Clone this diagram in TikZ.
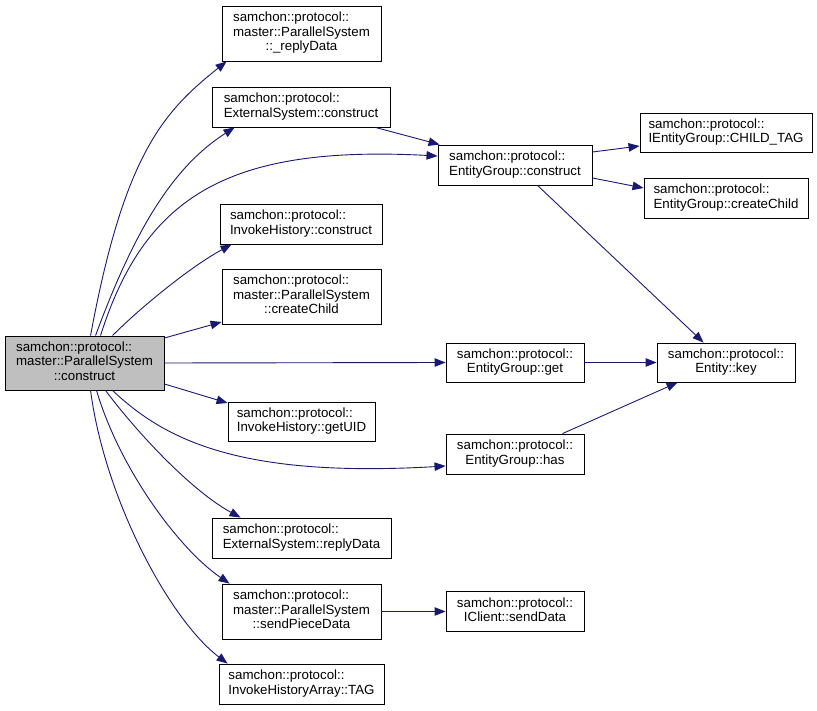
\documentclass[tikz,border=0pt]{standalone}
\usepackage{fontspec}
\setmainfont{Liberation Sans}
\usetikzlibrary{arrows.meta}
\definecolor{edgeblue}{HTML}{191970}
\definecolor{maingray}{HTML}{BFBFBF}
\newcommand{\twol}[2]{\begin{tabular}{@{}l@{}}#1\\#2\end{tabular}}
\newcommand{\twoc}[2]{\begin{tabular}{@{}c@{}}#1\\#2\end{tabular}}
\newcommand{\threel}[3]{\begin{tabular}{@{}l@{}}#1\\#2\\\multicolumn{1}{@{}c@{}}{#3}\end{tabular}}
\begin{document}
\begin{tikzpicture}[x=1pt,y=-1pt,
  box/.style={draw=black, fill=white, line width=0.9pt, rectangle, inner sep=0pt,
    font=\fontsize{13.3}{14.4}\selectfont},
  edge/.style={draw=edgeblue, line width=0.9pt, -{Triangle[length=11pt,width=8.5pt]}}]
\useasboundingbox (0,0) rectangle (817,711);
% nodes
\node[box, fill=maingray, minimum width=159pt, minimum height=54pt] (main) at (84.5,363) {\threel{samchon::protocol::}{master::ParallelSystem}{::construct}};
\node[box, minimum width=159pt, minimum height=55pt] (rd) at (301.5,33.5) {\threel{samchon::protocol::}{master::ParallelSystem}{::\_replyData}};
\node[box, minimum width=178pt, minimum height=40pt] (esc) at (301,107) {\twol{samchon::protocol::}{ExternalSystem::construct}};
\node[box, minimum width=162pt, minimum height=40pt] (ihc) at (301,224) {\twol{samchon::protocol::}{InvokeHistory::construct}};
\node[box, minimum width=159pt, minimum height=55pt] (mcc) at (301.5,296.5) {\threel{samchon::protocol::}{master::ParallelSystem}{::createChild}};
\node[box, minimum width=147pt, minimum height=39pt] (uid) at (301.5,421.5) {\twol{samchon::protocol::}{InvokeHistory::getUID}};
\node[box, minimum width=154pt, minimum height=40pt] (egc) at (515,165) {\twol{samchon::protocol::}{EntityGroup::construct}};
\node[box, minimum width=172pt, minimum height=39pt] (ctag) at (726,132.5) {\twol{samchon::protocol::}{IEntityGroup::CHILD\_TAG}};
\node[box, minimum width=164pt, minimum height=40pt] (egcc) at (726,198) {\twol{samchon::protocol::}{EntityGroup::createChild}};
\node[box, minimum width=138pt, minimum height=39pt] (get) at (515,362.5) {\twoc{samchon::protocol::}{EntityGroup::get}};
\node[box, minimum width=138pt, minimum height=39pt] (key) at (726,362.5) {\twoc{samchon::protocol::}{Entity::key}};
\node[box, minimum width=138pt, minimum height=40pt] (has) at (515,454) {\twoc{samchon::protocol::}{EntityGroup::has}};
\node[box, minimum width=179pt, minimum height=40pt] (erd) at (301.5,538) {\twol{samchon::protocol::}{ExternalSystem::replyData}};
\node[box, minimum width=159pt, minimum height=55pt] (spd) at (301.5,611.5) {\threel{samchon::protocol::}{master::ParallelSystem}{::sendPieceData}};
\node[box, minimum width=138pt, minimum height=40pt] (sd) at (515,611.5) {\twoc{samchon::protocol::}{IClient::sendData}};
\node[box, minimum width=165pt, minimum height=40pt] (tag) at (301.5,684) {\twol{samchon::protocol::}{InvokeHistoryArray::TAG}};
% edges
\draw[edge] ([xshift=86pt]main.north west) .. controls (124,155) and (163,112) .. ([xshift=5pt]rd.south west);
\draw[edge] ([xshift=91pt]main.north west) .. controls (137,223) and (176,165) .. ([xshift=23pt]esc.south west);
\draw[edge] ([xshift=96pt]main.north west) .. controls (145,195) and (230,145) .. (egc.west |- 0,156);
\draw[edge] ([xshift=108pt]main.north west) .. controls (140,308) and (190,267) .. ([xshift=12pt]ihc.south west);
\draw[edge] (main.east |- 0,338) -- (mcc.west |- 0,322);
\draw[edge] (main.east) -- (get.west);
\draw[edge] (main.east |- 0,384) -- (uid.west |- 0,403);
\draw[edge] ([xshift=108pt]main.south west) .. controls (165,440) and (240,478) .. (has.west |- 0,466);
\draw[edge] ([xshift=101pt]main.south west) .. controls (135,430) and (190,490) .. ([xshift=29pt]erd.north west);
\draw[edge] ([xshift=92pt]main.south west) .. controls (120,470) and (180,550) .. ([xshift=8pt]spd.north west);
\draw[edge] ([xshift=86pt]main.south west) .. controls (105,500) and (170,620) .. ([xshift=9pt]tag.north west);
\draw[edge] ([xshift=-15pt]esc.south east) -- ([xshift=2pt]egc.north west);
\draw[edge] (egc.east |- 0,152) -- (ctag.west |- 0,146);
\draw[edge] (egc.east |- 0,178) -- (egcc.west |- 0,188);
\draw[edge] ([xshift=100pt]egc.south west) -- ([xshift=47pt]key.north west);
\draw[edge] (get.east) -- (key.west);
\draw[edge] ([xshift=117pt]has.north west) -- ([xshift=21pt]key.south west);
\draw[edge] (spd.east) -- (sd.west);
\end{tikzpicture}
\end{document}
